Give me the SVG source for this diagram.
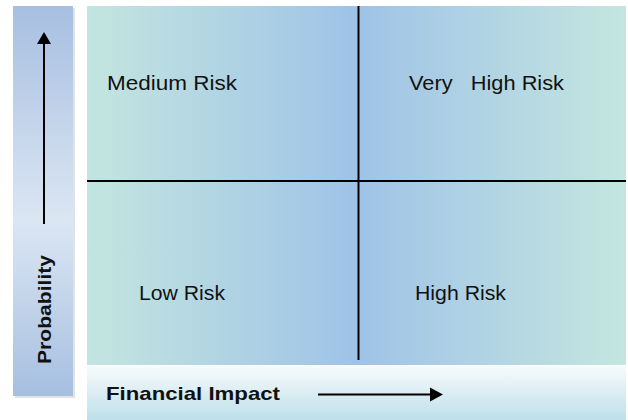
<svg xmlns="http://www.w3.org/2000/svg" width="628" height="420" viewBox="0 0 628 420">
  <defs>
    <linearGradient id="gMain" x1="87" y1="0" x2="626" y2="0" gradientUnits="userSpaceOnUse">
      <stop offset="0" stop-color="#c3e5e0"/>
      <stop offset="0.5" stop-color="#9fc3e7"/>
      <stop offset="1" stop-color="#c4e6e0"/>
    </linearGradient>
    <linearGradient id="gLeft" x1="0" y1="6" x2="0" y2="396" gradientUnits="userSpaceOnUse">
      <stop offset="0" stop-color="#a7bfe1"/>
      <stop offset="0.55" stop-color="#dbe6f3"/>
      <stop offset="1" stop-color="#a6bfe0"/>
    </linearGradient>
    <linearGradient id="gBottom" x1="0" y1="366" x2="0" y2="420" gradientUnits="userSpaceOnUse">
      <stop offset="0" stop-color="#f8fbfb"/>
      <stop offset="1" stop-color="#bde0ea"/>
    </linearGradient>
    <style>
      .lbl { font-family: "Liberation Sans", Arial, sans-serif; font-size: 20.5px; fill: #111; }
      .axis { font-family: "Liberation Sans", Arial, sans-serif; font-size: 19px; font-weight: bold; fill: #111; }
      .ln { stroke: #000; stroke-width: 2; fill: none; }
    </style>
  </defs>

  <rect x="0" y="0" width="628" height="420" fill="#ffffff"/>

  <g id="left-bar">
    <rect x="15" y="8" width="60" height="390" fill="#e2e2e2"/>
    <rect x="13" y="6" width="60" height="390" fill="url(#gLeft)"/>
    <text class="axis" transform="translate(51,364) rotate(-90)" textLength="109" lengthAdjust="spacingAndGlyphs">Probability</text>
  </g>

  <g id="main-area">
    <rect x="87" y="6" width="539" height="359" fill="url(#gMain)"/>
  </g>

  <g id="bottom-bar">
    <rect x="87" y="366" width="539" height="54" fill="url(#gBottom)"/>
    <text class="axis" x="106" y="400" textLength="174" lengthAdjust="spacingAndGlyphs">Financial Impact</text>
  </g>

  <g id="connectors">
    <line class="ln" x1="358.5" y1="6" x2="358.5" y2="360"/>
    <line class="ln" x1="87" y1="181" x2="626" y2="181"/>
    <line class="ln" x1="44" y1="224" x2="44" y2="42"/>
    <polygon points="44,32 51,44 37,44" fill="#000"/>
    <line class="ln" x1="318" y1="394.5" x2="432" y2="394.5"/>
    <polygon points="443,394.5 430,387.5 430,401.5" fill="#000"/>
  </g>

  <g id="medium-risk">
    <text class="lbl" x="107" y="90" textLength="130" lengthAdjust="spacingAndGlyphs">Medium Risk</text>
  </g>
  <g id="very-high-risk">
    <text class="lbl" x="409" y="90" textLength="155" lengthAdjust="spacingAndGlyphs" xml:space="preserve">Very   High Risk</text>
  </g>
  <g id="low-risk">
    <text class="lbl" x="139" y="300" textLength="86" lengthAdjust="spacingAndGlyphs">Low Risk</text>
  </g>
  <g id="high-risk">
    <text class="lbl" x="415" y="300" textLength="91" lengthAdjust="spacingAndGlyphs">High Risk</text>
  </g>
</svg>
